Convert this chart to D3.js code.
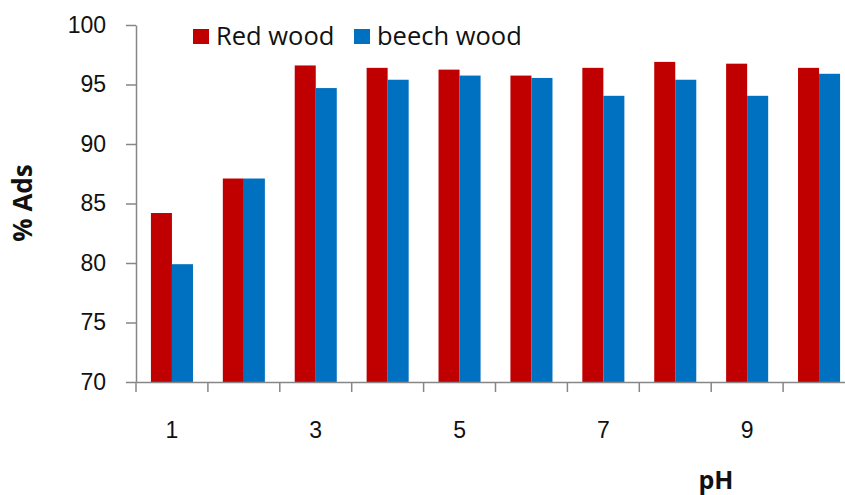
<!DOCTYPE html>
<html>
<head>
<meta charset="utf-8">
<script src="https://cdn.jsdelivr.net/npm/d3@7"></script>
<style>
  body { margin: 0; background: #fff; }
  svg { display: block; font-family: "Open Sans", "Liberation Sans", sans-serif; }
</style>
</head>
<body>
<svg id="plotSVG" width="845" height="495"></svg>
<script>
let phValues = ["1", "2", "3", "4", "5", "6", "7", "8", "9", "10"];
let phLabels = ["1", "3", "5", "7", "9"];
let seriesNames = ["Red wood", "beech wood"];
let redwood = [84.2, 87.1, 96.6, 96.4, 96.25, 95.75, 96.4, 96.9, 96.75, 96.4];
let beechwood = [79.9, 87.1, 94.7, 95.4, 95.75, 95.55, 94.05, 95.4, 94.05, 95.9];
let yTicks = [70, 75, 80, 85, 90, 95, 100];

let colors = { "Red wood": "#C00000", "beech wood": "#0070C0" };

let svg = d3.select("#plotSVG");

let xScale = d3.scaleBand()
  .domain(phValues)
  .range([136, 855])
  .padding(0);

let xInner = d3.scaleBand()
  .domain(seriesNames)
  .range([0, xScale.bandwidth()])
  .paddingInner(0)
  .paddingOuter(0.71);

let yScale = d3.scaleLinear()
  .domain([70, 100])
  .range([382, 25]);

let rows = phValues.map((p, i) => ({ ph: p, "Red wood": redwood[i], "beech wood": beechwood[i] }));

// bars
svg.append("g")
  .selectAll("g")
  .data(rows)
  .join("g")
  .attr("transform", d => "translate(" + xScale(d.ph) + ",0)")
  .selectAll("rect")
  .data(d => seriesNames.map(s => ({ s: s, v: d[s] })))
  .join("rect")
  .attr("x", d => xInner(d.s))
  .attr("width", xInner.bandwidth())
  .attr("y", d => yScale(d.v))
  .attr("height", d => yScale(70) - yScale(d.v))
  .attr("fill", d => colors[d.s]);

// y axis
let yAxis = svg.append("g")
  .attr("transform", "translate(136,0)")
  .call(d3.axisLeft(yScale)
    .tickValues(yTicks)
    .tickSize(10)
    .tickSizeOuter(0)
    .tickPadding(20));
yAxis.select(".domain").attr("stroke", "#868686").attr("stroke-width", 1.5);
yAxis.selectAll(".tick line").attr("stroke", "#868686").attr("stroke-width", 1.5);
yAxis.selectAll("text").style("font-size", "23px").attr("fill", "#111");

// x axis: line, boundary ticks, odd labels
let xAxis = svg.append("g")
  .attr("transform", "translate(0,382)")
  .call(d3.axisBottom(xScale)
    .tickSize(0)
    .tickSizeOuter(0)
    .tickPadding(40)
    .tickFormat(d => phLabels.includes(d) ? d : ""));
xAxis.select(".domain").attr("stroke", "#868686").attr("stroke-width", 1.5);
xAxis.selectAll("text").style("font-size", "23px").attr("fill", "#111");

xAxis.selectAll(".bound")
  .data(phValues.concat(["end"]))
  .join("line")
  .attr("class", "bound")
  .attr("x1", d => d === "end" ? xScale.range()[1] : xScale(d))
  .attr("x2", d => d === "end" ? xScale.range()[1] : xScale(d))
  .attr("y1", 0)
  .attr("y2", 10)
  .attr("stroke", "#868686")
  .attr("stroke-width", 1.5);

// axis titles
svg.append("text")
  .attr("transform", "translate(32,203) rotate(-90)")
  .attr("text-anchor", "middle")
  .style("font-size", "26px")
  .style("font-weight", "bold")
  .attr("fill", "#111")
  .text("% Ads");

svg.append("text")
  .attr("x", 716)
  .attr("y", 489)
  .attr("text-anchor", "middle")
  .style("font-size", "25px")
  .style("font-weight", "bold")
  .attr("fill", "#111")
  .text("pH");

// legend
let legendX = [193, 354];
let legend = svg.selectAll(".legend")
  .data(seriesNames)
  .join("g")
  .attr("class", "legend")
  .attr("transform", (d, i) => "translate(" + legendX[i] + ",29)");

legend.append("rect")
  .attr("width", 16)
  .attr("height", 15)
  .attr("fill", d => colors[d]);

legend.append("text")
  .attr("x", 23)
  .attr("y", 16)
  .style("font-size", "25.5px")
  .attr("fill", "#111")
  .text(d => d);
</script>
</body>
</html>
